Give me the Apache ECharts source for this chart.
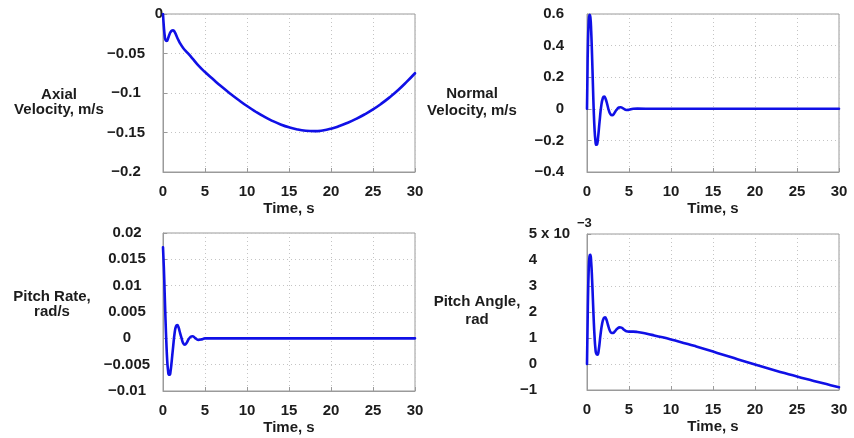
<!DOCTYPE html>
<html>
<head>
<meta charset="utf-8">
<script src="https://cdn.jsdelivr.net/npm/echarts@6/dist/echarts.min.js"></script>
<style>
html,body{margin:0;padding:0;background:#fff;}
#chart{width:854px;height:438px;}
</style>
</head>
<body>
<div id="chart"></div>
<script>
// ---- Data ----
const xTicks = [0, 5, 10, 15, 20, 25, 30];

const tAxial = [0, 0.1, 0.2, 0.3, 0.45, 0.6, 0.8, 1.0, 1.2, 1.4, 1.7, 2.0, 2.4, 2.8, 3.2, 3.6, 4.2, 5, 6, 7, 8, 9, 10, 11, 12, 13, 14, 15, 16, 17, 18, 19, 20, 21, 22, 23, 24, 25, 26, 27, 28, 29, 30];
const axialVelocity = [0, -0.016, -0.027, -0.033, -0.034, -0.031, -0.025, -0.0215, -0.0205, -0.023, -0.030, -0.0365, -0.0430, -0.0478, -0.0525, -0.0575, -0.0650, -0.0735, -0.0830, -0.0922, -0.1008, -0.1089, -0.1165, -0.1234, -0.1297, -0.1352, -0.1398, -0.1435, -0.1462, -0.1478, -0.1483, -0.1474, -0.1452, -0.1418, -0.1376, -0.1327, -0.1271, -0.1208, -0.1135, -0.1053, -0.0962, -0.0860, -0.0750];

const tNormal = [0, 0.05, 0.1, 0.2, 0.3, 0.4, 0.5, 0.6, 0.7, 0.8, 0.9, 1.0, 1.1, 1.2, 1.3, 1.5, 1.7, 1.9, 2.05, 2.2, 2.4, 2.6, 2.8, 3.0, 3.2, 3.5, 3.8, 4.0, 4.3, 4.7, 5.0, 5.5, 6, 8, 10, 15, 20, 25, 30];
const normalVelocity = [0, 0.2, 0.38, 0.55, 0.595, 0.58, 0.49, 0.34, 0.16, -0.01, -0.13, -0.2, -0.228, -0.225, -0.19, -0.08, 0.02, 0.07, 0.077, 0.065, 0.03, -0.01, -0.035, -0.041, -0.032, -0.008, 0.008, 0.01, 0.003, -0.008, -0.006, 0.0, 0.001, 0, 0, 0, 0, 0, 0];

const tRate = [0, 0.1, 0.2, 0.3, 0.4, 0.5, 0.6, 0.7, 0.8, 0.9, 1.0, 1.2, 1.4, 1.55, 1.7, 1.85, 2.0, 2.2, 2.4, 2.6, 2.8, 3.0, 3.3, 3.5, 3.8, 4.2, 4.6, 5.0, 6, 10, 15, 20, 25, 30];
const pitchRate = [0.0173, 0.0135, 0.0085, 0.0035, -0.0008, -0.0042, -0.0061, -0.0069, -0.0069, -0.0062, -0.0049, -0.0017, 0.0012, 0.0023, 0.0025, 0.0021, 0.0012, 0.0001, -0.0009, -0.0012, -0.0009, -0.0003, 0.0003, 0.0004, 0.0001, -0.0003, -0.0002, 0, 0, 0, 0, 0, 0, 0];

const tAngle = [0, 0.1, 0.2, 0.3, 0.4, 0.5, 0.6, 0.7, 0.8, 0.9, 1.0, 1.1, 1.25, 1.4, 1.6, 1.8, 2.0, 2.15, 2.3, 2.5, 2.7, 2.9, 3.1, 3.3, 3.6, 3.9, 4.1, 4.4, 4.7, 5.0, 5.5, 6, 7, 8, 9, 10, 11, 12, 13, 14, 15, 16, 17, 18, 19, 20, 21, 22, 23, 24, 25, 26, 27, 28, 29, 30];
// pitch angle in units of 1e-3 rad
const pitchAngleE3 = [0, 2.2, 3.6, 4.15, 4.2, 3.9, 3.3, 2.5, 1.7, 1.05, 0.6, 0.4, 0.36, 0.55, 1.1, 1.55, 1.77, 1.8, 1.72, 1.5, 1.3, 1.2, 1.19, 1.25, 1.36, 1.41, 1.40, 1.32, 1.26, 1.245, 1.245, 1.23, 1.17, 1.10, 1.025, 0.945, 0.86, 0.77, 0.675, 0.577, 0.477, 0.377, 0.277, 0.177, 0.077, -0.021, -0.117, -0.211, -0.303, -0.393, -0.481, -0.567, -0.651, -0.733, -0.813, -0.891];

const yRanges = [
  {min: -0.2, max: 0, interval: 0.05},
  {min: -0.4, max: 0.6, interval: 0.2},
  {min: -0.01, max: 0.02, interval: 0.005},
  {min: -1, max: 5, interval: 1}
];
const yNames = [["Axial", "Velocity, m/s"], ["Normal", "Velocity, m/s"], ["Pitch Rate,", "rad/s"], ["Pitch Angle,", "rad"]];
const xName = "Time, s";
const exponentText = "x 10";
const exponentPower = "\u22123";

// ---- Chart ----
const FONT = '"Liberation Sans", Arial, Helvetica, sans-serif';
const TXT = '#1c1c1c';
const FRAME = '#9a9a9a';
const LINE = '#1010e6';

const grids = [
  {left: 163, top: 14, width: 252, height: 158},
  {left: 587, top: 14, width: 252, height: 158},
  {left: 163, top: 233, width: 252, height: 158},
  {left: 587, top: 234, width: 252, height: 156}
].map(g => Object.assign(g, {show: true, borderColor: FRAME, borderWidth: 1, backgroundColor: 'transparent', containLabel: false}));

function fmt(v) {
  const s = String(parseFloat(v.toFixed(5)));
  return s.replace('-', '\u2212');
}

const labelCfg = [
  {align: 'center', margin: 37},
  {align: 'right', margin: 23},
  {align: 'center', margin: 36},
  {align: 'right', margin: 50}
];

const xAxes = grids.map((g, i) => ({
  type: 'value', gridIndex: i, min: xTicks[0], max: xTicks[xTicks.length - 1], interval: xTicks[1] - xTicks[0],
  axisLine: {show: true, onZero: false, lineStyle: {color: FRAME, width: 1}},
  axisTick: {show: true, inside: true, length: 4, lineStyle: {color: FRAME}},
  axisLabel: {fontSize: 15, fontWeight: 'bold', fontFamily: FONT, color: TXT, margin: 12},
  splitLine: {show: true, lineStyle: {type: [1, 3], color: '#c4c4c4', width: 1}},
  name: xName, nameLocation: 'middle', nameGap: 29,
  nameTextStyle: {fontSize: 15, fontWeight: 'bold', fontFamily: FONT, color: TXT}
}));

const yAxes = grids.map((g, i) => ({
  type: 'value', gridIndex: i, min: yRanges[i].min, max: yRanges[i].max, interval: yRanges[i].interval,
  axisLine: {show: true, lineStyle: {color: FRAME, width: 1}},
  axisTick: {show: true, inside: true, length: 4, lineStyle: {color: FRAME}},
  axisLabel: {
    fontSize: 15, fontWeight: 'bold', fontFamily: FONT, color: TXT,
    align: labelCfg[i].align, margin: labelCfg[i].margin,
    formatter: function (v) {
      if (i === 0 && Math.abs(v) < 1e-9) return '{z|0}';
      return fmt(v);
    },
    rich: {z: {fontSize: 15, fontWeight: 'bold', fontFamily: FONT, color: TXT, padding: [0, 0, 0, 66]}}
  },
  splitLine: {show: true, lineStyle: {type: [1, 3], color: '#c4c4c4', width: 1}}
}));

function pairs(t, v) { return t.map((x, k) => [x, v[k]]); }

const seriesData = [
  pairs(tAxial, axialVelocity),
  pairs(tNormal, normalVelocity),
  pairs(tRate, pitchRate),
  pairs(tAngle, pitchAngleE3)
];

const series = seriesData.map((d, i) => ({
  type: 'line', xAxisIndex: i, yAxisIndex: i, data: d,
  showSymbol: false, smooth: 0.5,
  lineStyle: {color: LINE, width: 2.6, cap: 'round', join: 'round'}, clip: true, animation: false
}));

const labelPos = [
  [[59, 95], [59, 110]],
  [[472, 94], [472, 111]],
  [[52, 297], [52, 312]],
  [[477, 302], [477, 320]]
];
const graphics = [];
yNames.forEach((lines, i) => {
  lines.forEach((t, k) => {
    graphics.push({type: 'text', x: labelPos[i][k][0], y: labelPos[i][k][1],
      style: {text: t, textAlign: 'center', textVerticalAlign: 'middle', font: 'bold 15px ' + FONT, fill: TXT}});
  });
});
graphics.push({type: 'text', x: 541, y: 234, style: {text: exponentText, textAlign: 'left', textVerticalAlign: 'middle', font: 'bold 15px ' + FONT, fill: TXT}});
graphics.push({type: 'text', x: 577, y: 223, style: {text: exponentPower, textAlign: 'left', textVerticalAlign: 'middle', font: 'bold 13px ' + FONT, fill: TXT}});

const chart = echarts.init(document.getElementById('chart'), null, {renderer: 'canvas'});
chart.setOption({
  animation: false,
  backgroundColor: '#ffffff',
  grid: grids,
  xAxis: xAxes,
  yAxis: yAxes,
  series: series,
  graphic: graphics
});
</script>
</body>
</html>
